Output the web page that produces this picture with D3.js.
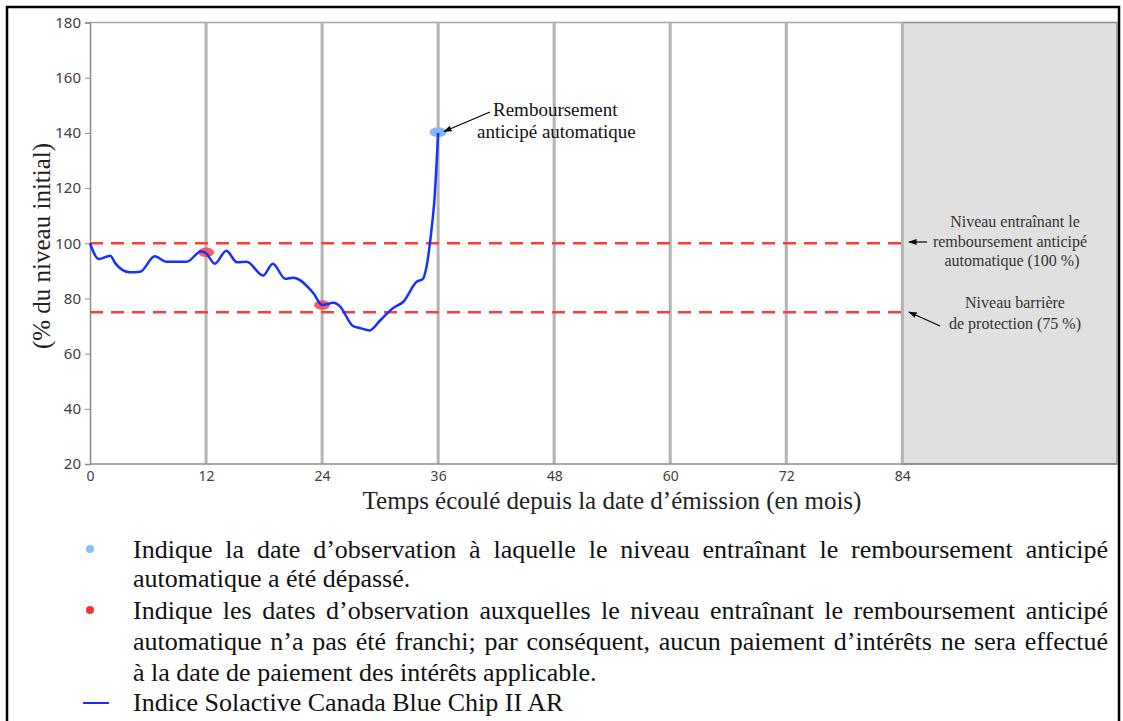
<!DOCTYPE html>
<html>
<head>
<meta charset="utf-8">
<script src="https://cdnjs.cloudflare.com/ajax/libs/d3/7.8.5/d3.min.js"></script>
<style>
  body { margin: 0; background: #fff; }
  svg { display: block; }
</style>
</head>
<body>
<div id="chart"></div>
<script>
// index path (months since issue, % of initial level)
var months = [0, 0.9, 2.1, 2.6, 4.1, 5.2, 6.7, 7.9, 10, 11.5, 12, 12.9, 14.1, 15.2, 16.2, 17.9, 18.9,
  20.2, 21, 23.1, 24, 25.2, 25.8, 27.2, 27.9, 28.9, 30, 31.3, 32.4, 33.8, 34.4, 34.8, 35.3, 35.6, 36];
var values = [100, 94.3, 95.5, 92.8, 89.5, 89.7, 95.3, 93.3, 93.3, 97.1, 96.4, 92.6, 97.3, 93.1, 93.3, 88.3, 92.6,
  87.1, 87.5, 81.9, 77.6, 78.4, 77.3, 70, 69.3, 68.4, 72, 76.4, 78.8, 86.1, 87, 91.5, 104.5, 115, 140];

// observation dates where the autocall level was missed (red) / exceeded (blue)
var missedMonths = [12, 24];
var missedValues = [96.7, 77.6];
var calledMonths = [36];
var calledValues = [140.2];

var xTicks = [0, 12, 24, 36, 48, 60, 72, 84];
var yTicks = [20, 40, 60, 80, 100, 120, 140, 160, 180];
var levels = [100, 75];
var term = 84;

var legendLines = [
  "Indique la date d\u2019observation \u00e0 laquelle le niveau entra\u00eenant le remboursement anticip\u00e9",
  "automatique a \u00e9t\u00e9 d\u00e9pass\u00e9.",
  "Indique les dates d\u2019observation auxquelles le niveau entra\u00eenant le remboursement anticip\u00e9",
  "automatique n\u2019a pas \u00e9t\u00e9 franchi; par cons\u00e9quent, aucun paiement d\u2019int\u00e9r\u00eats ne sera effectu\u00e9",
  "\u00e0 la date de paiement des int\u00e9r\u00eats applicable.",
  "Indice Solactive Canada Blue Chip II AR"
];

var W = 1123, H = 721;
var svg = d3.select("#chart").append("svg")
  .attr("width", W)
  .attr("height", H);

// outer frame
svg.append("rect")
  .attr("x", 7).attr("y", 7)
  .attr("width", 1112).attr("height", 800)
  .attr("fill", "none")
  .attr("stroke", "#000")
  .attr("stroke-width", 2.5);

var x = d3.scaleLinear().domain([0, 106.2]).range([90, 1117]);
var y = d3.scaleLinear().domain([20, 180]).range([464, 22.5]);

var serif = "'Liberation Serif', 'Times New Roman', serif";
var sans = "'Noto Sans', 'DejaVu Sans', sans-serif";

// grey area after maturity
svg.append("rect")
  .attr("x", x(term)).attr("y", y(180))
  .attr("width", x(106.2) - x(term)).attr("height", y(20) - y(180))
  .attr("fill", "#e0e0e0")
  .attr("stroke", "#8c8c8c")
  .attr("stroke-width", 1.5);

// plot frame top line
svg.append("line")
  .attr("x1", x(0)).attr("x2", x(term))
  .attr("y1", y(180)).attr("y2", y(180))
  .attr("stroke", "#a6a6a6").attr("stroke-width", 1.5);

// vertical grid lines at observation dates
svg.append("g").selectAll("line")
  .data(xTicks.slice(1))
  .enter().append("line")
  .attr("x1", function(d) { return x(d); })
  .attr("x2", function(d) { return x(d); })
  .attr("y1", y(180))
  .attr("y2", y(20))
  .attr("stroke", "#b3b3b3")
  .attr("stroke-width", 3);

// axes
var yAxis = svg.append("g")
  .attr("transform", "translate(" + x(0) + ",0)")
  .call(d3.axisLeft(y).tickValues(yTicks).tickSize(5).tickPadding(4));
var xAxis = svg.append("g")
  .attr("transform", "translate(0," + y(20) + ")")
  .call(d3.axisBottom(x).tickValues(xTicks).tickSize(0).tickPadding(7));

[yAxis, xAxis].forEach(function(a) {
  a.select(".domain").attr("stroke", "#8c8c8c").attr("stroke-width", 1.5);
  a.selectAll(".tick line").attr("stroke", "#8c8c8c");
  a.selectAll(".tick text")
    .attr("fill", "#404040")
    .style("font-family", sans)
    .style("font-size", "15px");
});
xAxis.selectAll(".tick text").style("font-size", "14px");
xAxis.select(".domain").attr("d", "M" + x(0) + ",0H" + x(106.2));

// dashed level lines
svg.append("g").selectAll("line")
  .data(levels)
  .enter().append("line")
  .attr("x1", x(0)).attr("x2", x(term))
  .attr("y1", function(d) { return y(d); })
  .attr("y2", function(d) { return y(d); })
  .attr("stroke", "#ff3b3b")
  .attr("stroke-width", 2.5)
  .attr("stroke-dasharray", "13,8");

// index line
var pts = months.map(function(m, i) { return [m, values[i]]; });
var line = d3.line()
  .x(function(d) { return x(d[0]); })
  .y(function(d) { return y(d[1]); })
  .curve(d3.curveMonotoneX);

// observation markers
svg.append("g").selectAll("ellipse")
  .data(missedMonths)
  .enter().append("ellipse")
  .attr("cx", function(d) { return x(d); })
  .attr("cy", function(d, i) { return y(missedValues[i]); })
  .attr("rx", 8).attr("ry", 4.8)
  .attr("fill", "#ff4040")
  .attr("opacity", 0.85);

svg.append("g").selectAll("ellipse")
  .data(calledMonths)
  .enter().append("ellipse")
  .attr("cx", function(d) { return x(d); })
  .attr("cy", function(d, i) { return y(calledValues[i]); })
  .attr("rx", 8.5).attr("ry", 5)
  .attr("fill", "#86b6f2");

svg.append("path")
  .datum(pts)
  .attr("d", line)
  .attr("fill", "none")
  .attr("stroke", "#1432ff")
  .attr("stroke-width", 2.5);

// arrow marker
svg.append("defs").append("marker")
  .attr("id", "arr")
  .attr("viewBox", "0 0 10 10")
  .attr("refX", 9).attr("refY", 5)
  .attr("markerWidth", 7).attr("markerHeight", 7)
  .attr("orient", "auto")
  .append("path")
  .attr("d", "M0,1.5L10,5L0,8.5Z")
  .attr("fill", "#000");

function arrow(x1, y1, x2, y2) {
  svg.append("line")
    .attr("x1", x1).attr("y1", y1)
    .attr("x2", x2).attr("y2", y2)
    .attr("stroke", "#000").attr("stroke-width", 1.2)
    .attr("marker-end", "url(#arr)");
}

// annotation at autocall
arrow(490, 112, 444, 131.5);
var ann = svg.append("text")
  .style("font-family", serif)
  .style("font-size", "19px")
  .attr("fill", "#111");
ann.append("tspan").attr("x", 493).attr("y", 116).text("Remboursement");
ann.append("tspan").attr("x", 477).attr("y", 138).text("anticip\u00e9 automatique");

// annotations in the grey area
arrow(927, 242, 909, 242);
arrow(940, 326, 909, 312);
var notes = [
  { x: 1015, y: 227, t: "Niveau entra\u00eenant le" },
  { x: 1010, y: 247, t: "remboursement anticip\u00e9" },
  { x: 1012, y: 266, t: "automatique (100 %)" },
  { x: 1015, y: 308, t: "Niveau barri\u00e8re" },
  { x: 1015, y: 329, t: "de protection (75 %)" }
];
svg.append("g").selectAll("text")
  .data(notes)
  .enter().append("text")
  .attr("x", function(d) { return d.x; })
  .attr("y", function(d) { return d.y; })
  .attr("text-anchor", "middle")
  .style("font-family", serif)
  .style("font-size", "16px")
  .attr("fill", "#333")
  .text(function(d) { return d.t; });

// axis titles
svg.append("text")
  .attr("transform", "translate(50,246) rotate(-90)")
  .attr("text-anchor", "middle")
  .style("font-family", serif)
  .style("font-size", "25px")
  .attr("fill", "#222")
  .text("(% du niveau initial)");

svg.append("text")
  .attr("x", 612).attr("y", 509)
  .attr("text-anchor", "middle")
  .style("font-family", serif)
  .style("font-size", "25px")
  .attr("fill", "#222")
  .text("Temps \u00e9coul\u00e9 depuis la date d\u2019\u00e9mission (en mois)");

// legend, justified lines get extra word spacing
var lg = svg.append("g");
var lineY = [558, 587, 619, 650, 681, 711];
var justify = [true, false, true, true, false, false];
lg.selectAll("text")
  .data(legendLines)
  .enter().append("text")
  .attr("x", 133)
  .attr("y", function(d, i) { return lineY[i]; })
  .style("font-family", serif)
  .style("font-size", "26px")
  .attr("fill", "#111")
  .text(function(d) { return d; })
  .each(function(d, i) {
    if (!justify[i]) return;
    var w = this.getComputedTextLength();
    var gaps = d.split(" ").length - 1;
    d3.select(this).style("word-spacing", ((975 - w) / gaps) + "px");
  });

lg.append("circle").attr("cx", 90).attr("cy", 549).attr("r", 4).attr("fill", "#8ebcf4");
lg.append("circle").attr("cx", 90).attr("cy", 610).attr("r", 4).attr("fill", "#ff3030");
lg.append("line")
  .attr("x1", 83).attr("x2", 109)
  .attr("y1", 703).attr("y2", 703)
  .attr("stroke", "#1432ff").attr("stroke-width", 2);
</script>
</body>
</html>
